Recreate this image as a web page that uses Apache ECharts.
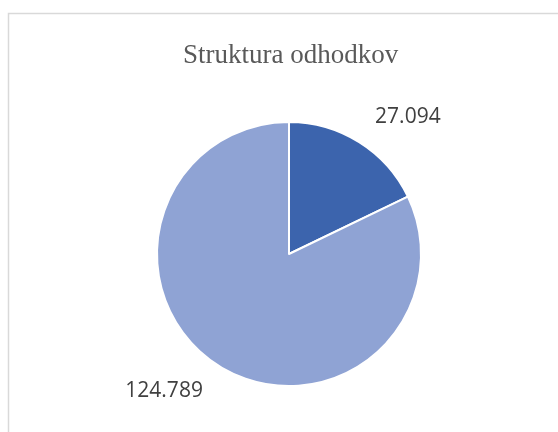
<!DOCTYPE html>
<html><head><meta charset="utf-8">
<script src="https://cdn.jsdelivr.net/npm/echarts@6/dist/echarts.min.js"></script>
<style>html,body{margin:0;padding:0;background:#fff}#c{width:558px;height:432px}</style>
</head><body><div id="c"></div>
<script>
const titleText = "Struktura odhodkov";
const categories = ["A", "B"];
const values = [27.094, 124.789];
const labels = ["27.094", "124.789"];
const colors = ["#3C64AD", "#8FA3D4"];

const chart = echarts.init(document.getElementById('c'), null, {renderer: 'canvas'});
chart.setOption({
  animation: false,
  backgroundColor: '#fff',
  title: {
    text: titleText, left: 178, top: 37, padding: 5,
    textStyle: {fontFamily: 'Liberation Serif', fontSize: 27, fontWeight: 'normal', color: '#595959'}
  },
  graphic: [{
    type: 'rect', shape: {x: 8.5, y: 13.5, width: 600, height: 500},
    style: {fill: null, stroke: '#d9d9d9', lineWidth: 1.5}, silent: true, z: -1
  }],
  series: [{
    type: 'pie',
    center: [289, 254],
    radius: 132,
    startAngle: 90,
    clockwise: true,
    data: categories.map((c, i) => ({
      name: c, value: values[i],
      itemStyle: {color: colors[i]},
      label: {formatter: labels[i]}
    })),
    itemStyle: {borderColor: '#fff', borderWidth: 2},
    label: {
      show: true, position: 'outside',
      fontFamily: 'Open Sans', fontSize: 21, color: '#404040',
      distanceToLabelLine: 0
    },
    labelLine: {show: false, length: 30, length2: 0},
    emphasis: {disabled: true}
  }]
});
</script></body></html>
